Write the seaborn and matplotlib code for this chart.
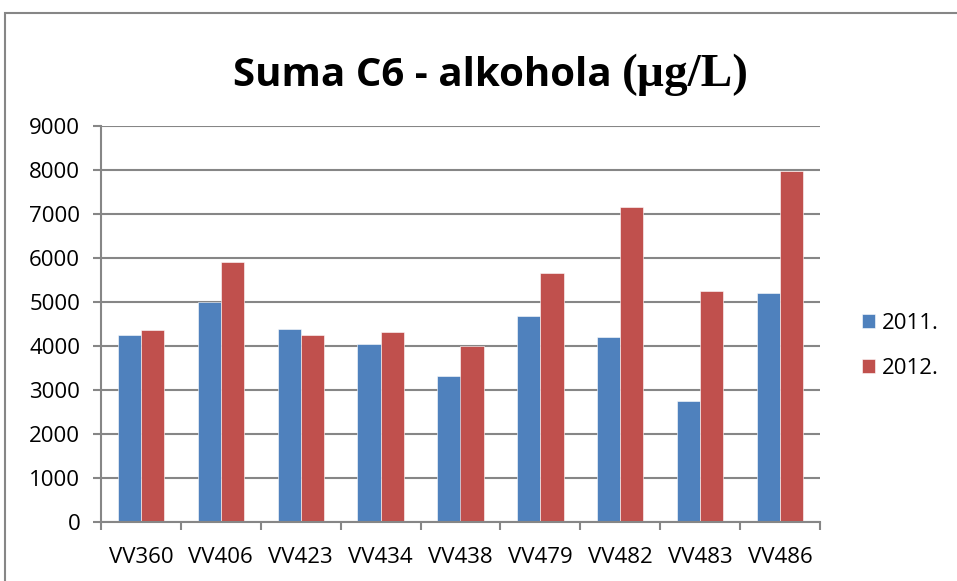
import numpy as np
import pandas as pd
import seaborn as sns
import matplotlib.pyplot as plt
from matplotlib.patches import Rectangle

# podaci (očitani sa grafika)
sorte = ["VV360", "VV406", "VV423", "VV434", "VV438", "VV479", "VV482", "VV483", "VV486"]
god_2011 = [4250, 4990, 4390, 4045, 3320, 4690, 4210, 2750, 5210]
god_2012 = [4360, 5920, 4250, 4320, 4010, 5650, 7170, 5250, 7985]
godine = ["2011.", "2012."]
boje = ["#4F81BD", "#C0504D"]

df = pd.DataFrame({
    "sorta": sorte * 2,
    "godina": [godine[0]] * len(sorte) + [godine[1]] * len(sorte),
    "vrednost": god_2011 + god_2012,
})

sns.set_style("white")
plt.rcParams["font.family"] = ["Open Sans", "DejaVu Sans"]
plt.rcParams["text.color"] = "black"
plt.rcParams["xtick.labelcolor"] = "black"
plt.rcParams["ytick.labelcolor"] = "black"

fig = plt.figure(figsize=(9.57, 5.81), dpi=100)
ax = fig.add_axes([101 / 957, 1 - 522 / 581, 719 / 957, 396 / 581])

sns.barplot(data=df, x="sorta", y="vrednost", hue="godina", palette=boje,
            width=0.58, ax=ax, edgecolor="white", linewidth=0.4, saturation=1)

siva = "#868686"
ax.set_ylim(0, 9000)
ax.set_xlim(-0.5, len(sorte) - 0.5)
ax.set_yticks(np.arange(0, 9001, 1000))
ax.yaxis.grid(True, color=siva, linewidth=1.5)
ax.set_axisbelow(True)
ax.set_xlabel("")
ax.set_ylabel("")
for s in ["top", "right"]:
    ax.spines[s].set_visible(False)
for s in ["left", "bottom"]:
    ax.spines[s].set_color(siva)
    ax.spines[s].set_linewidth(1.5)

ax.tick_params(axis="y", direction="out", length=6, width=1.5, color=siva,
               labelsize=16, pad=9, left=True)
ax.tick_params(axis="x", which="major", length=0, labelsize=16, pad=18)
ax.set_xticks(np.arange(-0.5, len(sorte)), minor=True)
ax.tick_params(axis="x", which="minor", direction="out", length=6, width=1.5,
               color=siva, bottom=True)

ax.legend(loc="center left", bbox_to_anchor=(1.058, 0.445), frameon=False,
          fontsize=16, handlelength=0.62, handleheight=0.62, labelspacing=1.1,
          handletextpad=0.3, borderpad=0, borderaxespad=0)

# naslov: tekst u sans-serif, jedinica u serif kao u originalu
fig.text(612 / 957, 1 - 86 / 581, "Suma C6 - alkohola", ha="right", va="baseline",
         fontsize=29, fontweight="bold")
fig.text(622 / 957, 1 - 86 / 581, "(µg/L)", ha="left", va="baseline",
         fontsize=34, fontweight="bold", family=["Liberation Serif", "DejaVu Serif"])

# okvir grafika
fig.patches.append(Rectangle((5 / 957, -0.01), 1.0, 1 - 13 / 581 + 0.01,
                             transform=fig.transFigure, fill=False,
                             edgecolor=siva, linewidth=1.5))

fig.savefig("out.png", dpi=100)
